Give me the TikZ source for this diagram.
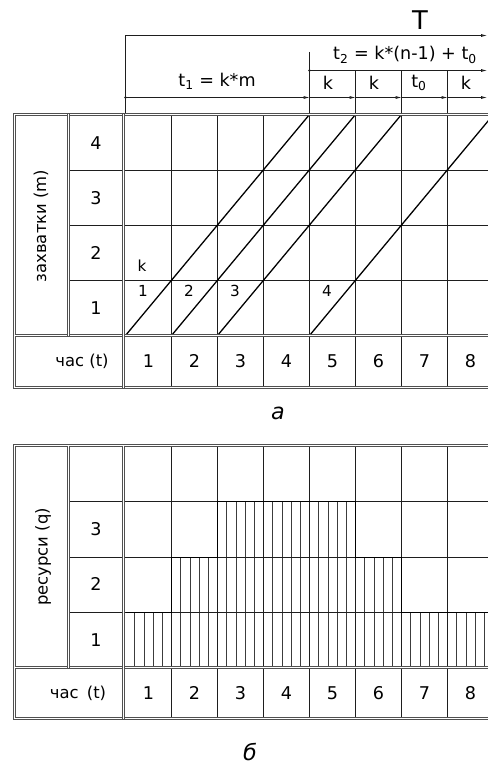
\documentclass[tikz,border=0pt]{standalone}
\usepackage{fontspec}
\setmainfont{DejaVu Sans}
\usetikzlibrary{arrows.meta, positioning, calc}
\definecolor{myline}{RGB}{30,30,30}
\definecolor{myframe}{RGB}{80,80,80}
\definecolor{myhatch}{RGB}{60,60,60}
\tikzset{
  grid/.style={draw=myline, line width=0.8pt},
  frame/.style={draw=myframe, double=white, double distance=0.9pt, line width=0.9pt},
  flow/.style={draw=black, line width=1.1pt},
  profile/.style={draw=black, line width=0.9pt},
  hatch/.style={draw=myhatch, line width=0.5pt},
  dim/.style={draw=myline, line width=0.7pt},
  dimarrow/.style={dim, -{Latex[open, length=5pt, width=2.6pt]}},
  num/.style={font=\fontsize{15}{17}\selectfont, inner sep=0pt},
  small/.style={font=\fontsize{13}{15}\selectfont, inner sep=0pt},
  axlabel/.style={font=\fontsize{14}{16}\selectfont, inner sep=0pt},
  formula/.style={font=\fontsize{15}{17}\selectfont, inner sep=0pt},
  caption/.style={font=\fontsize{19}{21}\selectfont\itshape, inner sep=0pt}
}

\begin{document}
\begin{tikzpicture}[x=0.03cm, y=-0.03cm]
  \clip (0,0) rectangle (488,769);
  \fill[white] (0,0) rectangle (488,769);

  \coordinate (Tl) at (125.5,35.5);
  \coordinate (Tr) at (487,35.5);
  \coordinate (t1l) at (125.5,97.5);
  \coordinate (t1r) at (309.5,97.5);
  \coordinate (t2l) at (309.5,70.5);
  \coordinate (t2r) at (487,70.5);
  \draw [dimarrow] (Tl) -- (Tr);
  \draw [dim] (Tl) -- (125.5,114.5);
  \draw [dimarrow] (t1l) -- (t1r);
  \draw [dim] (309.5,52) -- (309.5,114.5);
  \draw [dimarrow] (t2l) -- (t2r);
  \foreach \x in {355.5,401.5,447.5} \draw [dim] (\x,70.5) -- (\x,114.5);
  \foreach \a/\b in {309.5/355.5,355.5/401.5,401.5/447.5,447.5/487} \draw [dimarrow] (\a,97.5) -- (\b,97.5);
  \fill [myline] (t1l) circle (1.4) (t2l) circle (1.4);

  \node [font=\fontsize{22}{24}\selectfont, inner sep=0pt] (T) at (420,20) {T};
  \node [formula] (t2) at (405,55) {t\textsubscript{2} = k*(n-1) + t\textsubscript{0}};
  \node [formula] (t1) at (217,81) {t\textsubscript{1} = k*m};
  \node [formula] (k1) at (328,83) {k};
  \node [formula] (k2) at (374,83) {k};
  \node [formula] (t0) at (419,83) {t\textsubscript{0}};
  \node [formula] (k3) at (466,83) {k};

  \foreach \c in {1,...,7} \draw [grid] ({125.5+46*\c},114.5) -- ({125.5+46*\c},387.5);
  \foreach \y in {170.5,225.5,280.5} \draw [grid] (70,\y) -- (489,\y);
  \foreach \s in {0,1,2,4} \draw [flow] ({125.5+46*\s},335.5) -- ({309.5+46*\s},114.5);
  \draw [frame] (490,114.5) -- (14.5,114.5) -- (14.5,387.5) -- (490,387.5);
  \draw [frame] (14.5,335.5) -- (490,335.5);
  \draw [frame] (68.5,114.5) -- (68.5,335.5);
  \draw [frame] (123.5,114.5) -- (123.5,387.5);

  \node [axlabel, rotate=90] (zah) at (41,226) {захватки (m)};
  \foreach \m/\y in {4/143,3/198,2/253,1/308} \node [num] (m\m) at (96,\y) {\m};
  \node [axlabel] (hra) at (82,361) {час (t)};
  \foreach \c in {1,...,8} \node [num] (ha\c) at ({102.5+46*\c},361) {\c};
  \node [small] (kk) at (142,266) {k};
  \foreach \n/\x in {1/143,2/189,3/235,4/327} \node [small] (s\n) at (\x,291) {\n};

  \node [caption] (capa) at (278,413) {a};

  \foreach \r/\f/\l/\y in {1/1/8/612.5,2/2/6/557.5,3/3/5/501.5}
    \foreach \c in {\f,...,\l}
      \foreach \i in {1,...,4}
        \draw [hatch] ({79.5+46*\c+9.2*\i},\y) -- ({79.5+46*\c+9.2*\i},667.5);
  \foreach \c in {1,...,7} \draw [grid] ({125.5+46*\c},445.5) -- ({125.5+46*\c},718.5);
  \foreach \y in {501.5,557.5,612.5} \draw [grid] (70,\y) -- (489,\y);
  \draw [profile] (125.5,612.5) -- (171.5,612.5) -- (171.5,557.5) -- (217.5,557.5) -- (217.5,501.5)
    -- (355.5,501.5) -- (355.5,557.5) -- (401.5,557.5) -- (401.5,612.5) -- (490,612.5);
  \draw [frame] (490,445.5) -- (14.5,445.5) -- (14.5,718.5) -- (490,718.5);
  \draw [frame] (14.5,667.5) -- (490,667.5);
  \draw [frame] (68.5,445.5) -- (68.5,667.5);
  \draw [frame] (123.5,445.5) -- (123.5,718.5);

  \node [axlabel, rotate=90] (res) at (43,557) {ресурси (q)};
  \foreach \q/\y in {3/529,2/584,1/640} \node [num] (q\q) at (96,\y) {\q};
  \node [axlabel] (hrb) at (78,693) {час\enspace(t)};
  \foreach \c in {1,...,8} \node [num] (hb\c) at ({102.5+46*\c},693) {\c};

  \node [caption] (capb) at (250,752) {б};
\end{tikzpicture}
\end{document}
